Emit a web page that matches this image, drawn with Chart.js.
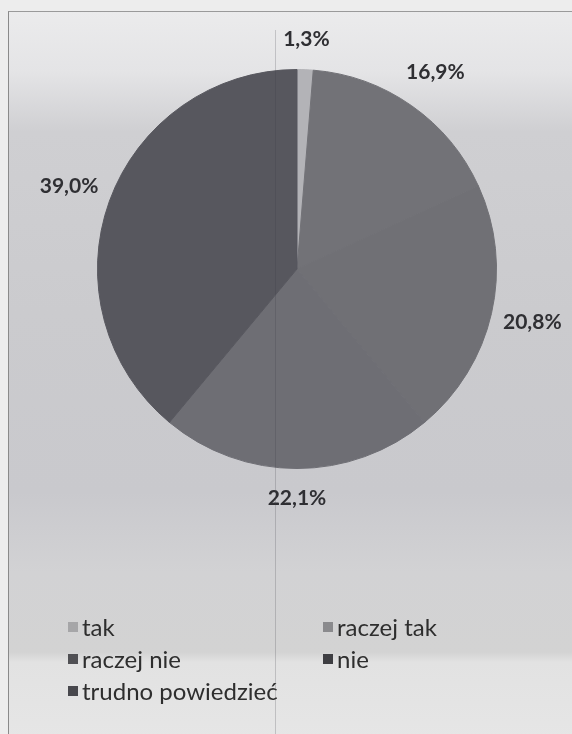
<!DOCTYPE html>
<html>
<head>
<meta charset="utf-8">
<script src="https://cdn.jsdelivr.net/npm/chart.js@4.4.1/dist/chart.umd.min.js"></script>
<style>
    html, body {
        margin: 0;
        padding: 0;
        width: 572px;
        height: 734px;
        overflow: hidden;
        background: #ededed;
        font-family: Lato, "Open Sans", sans-serif;
    }
    .frame {
        position: absolute;
        left: 8px;
        top: 11px;
        width: 570px;
        height: 730px;
        border-left: 1px solid #8a8a8a;
        border-top: 1px solid #9a9a9a;
        background: linear-gradient(to bottom,
            #ebebec 0px, #e4e4e6 60px, #cfcfd2 120px, #cbcbce 300px,
            #c9c9cd 480px, #d2d2d4 560px, #d3d3d3 640px, #e2e2e2 650px, #e6e6e6 730px);
    }
    .fold {
        position: absolute;
        left: 275px;
        top: 30px;
        width: 1px;
        height: 704px;
        background: rgba(60, 60, 70, 0.22);
    }
    .chart-wrap {
        position: absolute;
        left: 0;
        top: 0;
        width: 572px;
        height: 540px;
    }
    .legend {
        position: absolute;
        left: 68px;
        top: 612px;
        width: 490px;
        display: grid;
        grid-template-columns: 255px 220px;
        row-gap: 4px;
        font-size: 24px;
        color: #2e2e2e;
    }
    .legend-item {
        display: flex;
        align-items: center;
        height: 28px;
    }
    .legend-swatch {
        width: 10px;
        height: 10px;
        margin-right: 4px;
        margin-top: 2px;
    }
</style>
</head>
<body>
<div class="frame"></div>
<div class="chart-wrap"><canvas id="pie"></canvas></div>
<div class="fold"></div>
<div class="legend" id="legend"></div>

<script>
// Chart data
const categories = ['tak', 'raczej tak', 'raczej nie', 'nie', 'trudno powiedzieć'];
const shares = [1.3, 16.9, 20.8, 22.1, 39.0];

// Slice colours (scan is greyscale, the three middle slices blend together)
const sliceColors = ['#b3b3b7', '#727277', '#707075', '#6e6e74', '#57575e'];
const swatchColors = ['#a6a6a8', '#8a8a8d', '#505054', '#3e3e42', '#48484d'];

const formatShare = (v) => v.toFixed(1).replace('.', ',') + '%';

// Draws percentage labels just outside each slice
const outsideLabels = {
    id: 'outsideLabels',
    afterDatasetsDraw(chart) {
        const ctx = chart.ctx;
        const meta = chart.getDatasetMeta(0);
        ctx.save();
        ctx.font = 'bold 21px Lato, "Open Sans", sans-serif';
        ctx.fillStyle = '#2f2f33';
        ctx.textAlign = 'center';
        ctx.textBaseline = 'middle';
        meta.data.forEach((arc, i) => {
            const p = arc.getProps(['x', 'y', 'startAngle', 'endAngle', 'outerRadius'], true);
            const mid = (p.startAngle + p.endAngle) / 2;
            const cos = Math.cos(mid);
            const sin = Math.sin(mid);
            const text = formatShare(shares[i]);
            const hw = ctx.measureText(text).width / 2;
            const hh = 16;
            const extent = Math.abs(cos) * hw * 0.85 + Math.abs(sin) * hh;
            const dist = p.outerRadius + 14 + extent;
            ctx.fillText(text, p.x + cos * dist, p.y + sin * dist);
        });
        ctx.restore();
    }
};

function buildLegend() {
    const legend = document.getElementById('legend');
    legend.innerHTML = categories.map((name, i) => `
        <div class="legend-item">
            <span class="legend-swatch" style="background:${swatchColors[i]}"></span>${name}
        </div>
    `).join('');
}

function initializePieChart() {
    const ctx = document.getElementById('pie').getContext('2d');
    return new Chart(ctx, {
        type: 'pie',
        data: {
            labels: categories,
            datasets: [{
                data: shares,
                backgroundColor: sliceColors,
                borderColor: sliceColors,
                borderWidth: 1
            }]
        },
        options: {
            responsive: true,
            maintainAspectRatio: false,
            animation: false,
            layout: {
                padding: { left: 97, right: 75, top: 69, bottom: 71 }
            },
            plugins: {
                legend: { display: false },
                tooltip: { enabled: false }
            }
        },
        plugins: [outsideLabels]
    });
}

buildLegend();
initializePieChart();
</script>
</body>
</html>
